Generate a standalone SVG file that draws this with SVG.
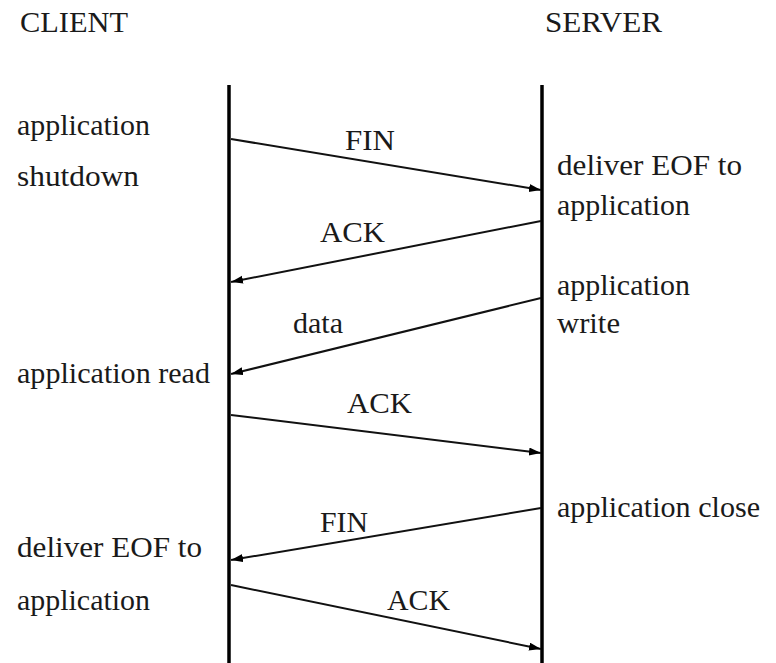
<svg xmlns="http://www.w3.org/2000/svg" width="776" height="663" viewBox="0 0 776 663">
<style>
text{font-family:"Liberation Serif","Times New Roman","DejaVu Serif","Noto Serif",serif;font-size:30px;fill:#1a1a1a}
.life{stroke:#000;stroke-width:3.5;fill:none}
.msg{stroke:#111;stroke-width:2;fill:none;marker-end:url(#ah)}
</style>
<defs>
<marker id="ah" markerUnits="userSpaceOnUse" markerWidth="14" markerHeight="10" refX="12" refY="4" orient="auto">
<path d="M0,0 L12,4 L0,8 z" fill="#000"/>
</marker>
</defs>
<rect width="776" height="663" fill="#fff"/>
<g id="client">
<text x="20" y="32" textLength="108" lengthAdjust="spacingAndGlyphs" font-size="32">CLIENT</text>
<line class="life" x1="229" y1="85" x2="229" y2="663"/>
</g>
<g id="server">
<text x="545" y="32" textLength="117" lengthAdjust="spacingAndGlyphs" font-size="32">SERVER</text>
<line class="life" x1="542" y1="85" x2="542" y2="663"/>
</g>
<g id="client-notes">
<text x="17" y="135" textLength="133" lengthAdjust="spacingAndGlyphs">application</text>
<text x="17" y="186" textLength="122" lengthAdjust="spacingAndGlyphs">shutdown</text>
<text x="17" y="383" textLength="193" lengthAdjust="spacingAndGlyphs">application read</text>
<text x="17" y="557" textLength="185" lengthAdjust="spacingAndGlyphs">deliver EOF to</text>
<text x="17" y="610" textLength="133" lengthAdjust="spacingAndGlyphs">application</text>
</g>
<g id="server-notes">
<text x="557" y="175" textLength="185" lengthAdjust="spacingAndGlyphs">deliver EOF to</text>
<text x="557" y="215" textLength="133" lengthAdjust="spacingAndGlyphs">application</text>
<text x="557" y="295" textLength="133" lengthAdjust="spacingAndGlyphs">application</text>
<text x="557" y="333" textLength="63" lengthAdjust="spacingAndGlyphs">write</text>
<text x="557" y="517" textLength="203" lengthAdjust="spacingAndGlyphs">application close</text>
</g>
<g id="connectors">
<line class="msg" x1="231" y1="139" x2="541" y2="190"/>
<line class="msg" x1="541" y1="221" x2="231" y2="282"/>
<line class="msg" x1="541" y1="298" x2="231" y2="374"/>
<line class="msg" x1="231" y1="415" x2="541" y2="453"/>
<line class="msg" x1="541" y1="508" x2="231" y2="560"/>
<line class="msg" x1="231" y1="585" x2="541" y2="649"/>
</g>
<g id="labels">
<text x="345" y="150" textLength="50" lengthAdjust="spacingAndGlyphs">FIN</text>
<text x="320" y="242" textLength="65" lengthAdjust="spacingAndGlyphs">ACK</text>
<text x="293" y="333" textLength="50" lengthAdjust="spacingAndGlyphs">data</text>
<text x="347" y="413" textLength="65" lengthAdjust="spacingAndGlyphs">ACK</text>
<text x="320" y="532" textLength="48" lengthAdjust="spacingAndGlyphs">FIN</text>
<text x="387" y="610" textLength="63" lengthAdjust="spacingAndGlyphs">ACK</text>
</g>
</svg>
